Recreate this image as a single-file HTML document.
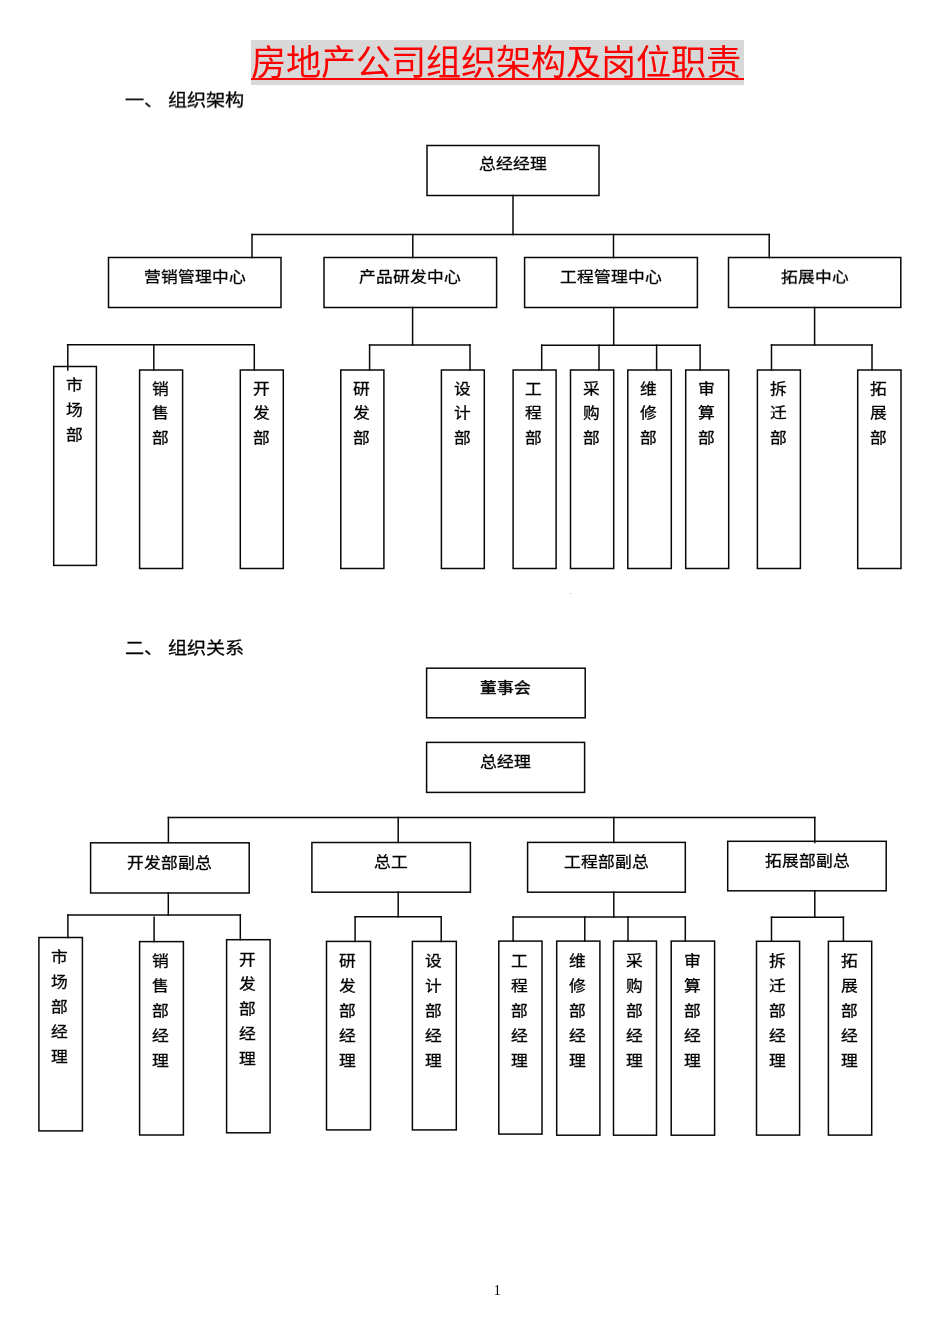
<!DOCTYPE html>
<html lang="zh-CN"><head><meta charset="utf-8"><title>房地产公司组织架构及岗位职责</title>
<style>
html,body{margin:0;padding:0;background:#fff;}
body{width:950px;height:1344px;position:relative;overflow:hidden;font-family:"Liberation Sans",sans-serif;color:#000;}
svg{position:absolute;left:0;top:0;}
svg line,svg rect{stroke:#080808;stroke-width:1.5;fill:none;stroke-linecap:square;}
.hl{position:absolute;font-size:16.76px;line-height:20px;height:20px;text-align:center;white-space:nowrap;transform:scaleY(0.88);transform-origin:50% 50%;-webkit-text-stroke:0.3px #000;}
.b{-webkit-text-stroke:0.45px #000;}
.b2{-webkit-text-stroke:0.38px #000;}
.vc{position:absolute;width:30px;font-size:16.76px;line-height:20px;height:20px;text-align:center;transform:scaleY(0.88);transform-origin:50% 50%;-webkit-text-stroke:0.3px #000;}
.title{position:absolute;left:251px;top:39.8px;width:493px;height:44.8px;background:#d8d8d8;}
.title span{position:absolute;left:0;top:2.7px;width:493px;font-family:"Liberation Serif",serif;font-size:35.2px;line-height:44px;color:#f00;white-space:nowrap;letter-spacing:0;}
.uline{position:absolute;left:251px;top:77.5px;width:493px;height:2px;background:#f00;}
.head{position:absolute;font-size:19.16px;line-height:24px;height:24px;white-space:nowrap;transform:scaleY(0.9);transform-origin:50% 50%;-webkit-text-stroke:0.3px #000;}
.pn{position:absolute;left:489.7px;top:1283px;width:15px;text-align:center;font-family:"Liberation Serif",serif;font-size:14px;line-height:16px;}
</style></head><body>
<div id="wrap" style="position:absolute;left:0;top:0;width:950px;height:1344px;will-change:transform;background:transparent">
<div class="title"><span>房地产公司组织架构及岗位职责</span></div>
<div class="uline"></div>
<div class="head" style="left:125px;top:89.00px">一、 组织架构</div>
<div class="head" style="left:125px;top:636.55px">二、 组织关系</div>
<svg width="950" height="1344" viewBox="0 0 950 1344">
<line x1="513" y1="195.5" x2="513" y2="234.5"/>
<line x1="252" y1="234.5" x2="769.2" y2="234.5"/>
<line x1="252" y1="234.5" x2="252" y2="257.5"/>
<line x1="412.8" y1="234.5" x2="412.8" y2="257.5"/>
<line x1="613.5" y1="234.5" x2="613.5" y2="257.5"/>
<line x1="769.2" y1="234.5" x2="769.2" y2="257.5"/>
<line x1="67.6" y1="344.8" x2="254.3" y2="344.8"/>
<line x1="67.8" y1="344.8" x2="67.8" y2="370.0"/>
<line x1="153.8" y1="344.8" x2="153.8" y2="370.0"/>
<line x1="254.3" y1="344.8" x2="254.3" y2="370.0"/>
<line x1="412.6" y1="307.5" x2="412.6" y2="345.0"/>
<line x1="369.6" y1="345.0" x2="470" y2="345.0"/>
<line x1="369.6" y1="345.0" x2="369.6" y2="370.0"/>
<line x1="470" y1="345.0" x2="470" y2="370.0"/>
<line x1="613.7" y1="307.5" x2="613.7" y2="345.2"/>
<line x1="541.7" y1="345.2" x2="700.1" y2="345.2"/>
<line x1="541.7" y1="345.2" x2="541.7" y2="370.0"/>
<line x1="599" y1="345.2" x2="599" y2="370.0"/>
<line x1="656.6" y1="345.2" x2="656.6" y2="370.0"/>
<line x1="700.1" y1="345.2" x2="700.1" y2="370.0"/>
<line x1="814.6" y1="307.5" x2="814.6" y2="345.0"/>
<line x1="771.5" y1="345.0" x2="872" y2="345.0"/>
<line x1="771.5" y1="345.0" x2="771.5" y2="370.0"/>
<line x1="872" y1="345.0" x2="872" y2="370.0"/>
<line x1="168.4" y1="817.5" x2="814.8" y2="817.5"/>
<line x1="168.4" y1="817.5" x2="168.4" y2="842.5"/>
<line x1="398.2" y1="817.5" x2="398.2" y2="842.5"/>
<line x1="613.8" y1="817.5" x2="613.8" y2="842.5"/>
<line x1="814.8" y1="817.5" x2="814.8" y2="842.5"/>
<line x1="168.3" y1="893.0" x2="168.3" y2="915.0"/>
<line x1="67.9" y1="915.0" x2="240.3" y2="915.0"/>
<line x1="67.9" y1="915.0" x2="67.9" y2="937.5"/>
<line x1="154.1" y1="917.3" x2="154.1" y2="941.6"/>
<line x1="240.3" y1="915.0" x2="240.3" y2="939.7"/>
<line x1="398.2" y1="892.2" x2="398.2" y2="916.8"/>
<line x1="355.1" y1="916.8" x2="441.2" y2="916.8"/>
<line x1="355.1" y1="916.8" x2="355.1" y2="941.4"/>
<line x1="441.2" y1="916.8" x2="441.2" y2="941.4"/>
<line x1="613.8" y1="892.2" x2="613.8" y2="917.1"/>
<line x1="513.1" y1="917.1" x2="685.3" y2="917.1"/>
<line x1="513.1" y1="917.1" x2="513.1" y2="941.1"/>
<line x1="584.8" y1="917.1" x2="584.8" y2="941.1"/>
<line x1="628" y1="917.1" x2="628" y2="941.1"/>
<line x1="685.3" y1="917.1" x2="685.3" y2="941.1"/>
<line x1="814.8" y1="890.8" x2="814.8" y2="917.2"/>
<line x1="771.5" y1="917.2" x2="843.4" y2="917.2"/>
<line x1="771.5" y1="917.2" x2="771.5" y2="941.3"/>
<line x1="843.4" y1="917.2" x2="843.4" y2="941.3"/>
<rect x="427" y="145.5" width="172.00" height="50.00"/>
<rect x="108.5" y="257.5" width="172.50" height="50.00"/>
<rect x="324" y="257.5" width="172.60" height="50.00"/>
<rect x="524.6" y="257.5" width="172.80" height="50.00"/>
<rect x="728.5" y="257.5" width="172.30" height="50.00"/>
<rect x="53.7" y="366.5" width="42.70" height="198.90"/>
<rect x="139.6" y="370.0" width="43.00" height="198.50"/>
<rect x="240.3" y="370.0" width="43.00" height="198.50"/>
<rect x="340.8" y="370.0" width="43.10" height="198.50"/>
<rect x="441.4" y="370.0" width="42.90" height="198.50"/>
<rect x="513.1" y="370.0" width="43.00" height="198.50"/>
<rect x="570.5" y="370.0" width="43.20" height="198.50"/>
<rect x="627.8" y="370.0" width="43.50" height="198.50"/>
<rect x="685.7" y="370.0" width="43.00" height="198.50"/>
<rect x="757.4" y="370.0" width="43.00" height="198.50"/>
<rect x="857.7" y="370.0" width="43.30" height="198.50"/>
<rect x="426.6" y="668.2" width="158.60" height="49.60"/>
<rect x="426.6" y="742.4" width="158.00" height="50.00"/>
<rect x="90.6" y="842.8" width="158.60" height="50.20"/>
<rect x="311.9" y="842.5" width="158.50" height="49.70"/>
<rect x="527.6" y="842.4" width="157.70" height="49.80"/>
<rect x="727.7" y="841.3" width="158.50" height="49.50"/>
<rect x="38.9" y="937.5" width="43.50" height="193.40"/>
<rect x="139.6" y="941.6" width="43.80" height="193.40"/>
<rect x="226.6" y="939.7" width="43.50" height="193.10"/>
<rect x="326.5" y="941.4" width="44.00" height="188.50"/>
<rect x="412.4" y="941.4" width="43.90" height="188.50"/>
<rect x="498.8" y="941.1" width="43.20" height="193.00"/>
<rect x="556.7" y="941.1" width="43.20" height="194.10"/>
<rect x="613.5" y="941.1" width="43.00" height="194.10"/>
<rect x="671.2" y="941.1" width="43.40" height="194.10"/>
<rect x="756.5" y="941.3" width="43.10" height="193.80"/>
<rect x="828.4" y="941.3" width="43.30" height="193.80"/>
</svg>
<div class="hl" style="left:363.0px;top:155.20px;width:300px">总经经理</div>
<div class="hl" style="left:44.8px;top:267.80px;width:300px">营销管理中心</div>
<div class="hl" style="left:260.3px;top:267.80px;width:300px">产品研发中心</div>
<div class="hl" style="left:461.0px;top:267.80px;width:300px">工程管理中心</div>
<div class="hl" style="left:664.6px;top:267.80px;width:300px">拓展中心</div>
<div class="vc" style="left:59.25px;top:376.00px">市</div>
<div class="vc" style="left:59.25px;top:400.90px">场</div>
<div class="vc" style="left:59.25px;top:425.80px">部</div>
<div class="vc" style="left:145.30px;top:379.50px">销</div>
<div class="vc" style="left:145.30px;top:404.40px">售</div>
<div class="vc" style="left:145.30px;top:429.30px">部</div>
<div class="vc" style="left:246.00px;top:379.50px">开</div>
<div class="vc" style="left:246.00px;top:404.40px">发</div>
<div class="vc" style="left:246.00px;top:429.30px">部</div>
<div class="vc" style="left:346.55px;top:379.50px">研</div>
<div class="vc" style="left:346.55px;top:404.40px">发</div>
<div class="vc" style="left:346.55px;top:429.30px">部</div>
<div class="vc" style="left:447.05px;top:379.50px">设</div>
<div class="vc" style="left:447.05px;top:404.40px">计</div>
<div class="vc" style="left:447.05px;top:429.30px">部</div>
<div class="vc" style="left:518.80px;top:379.50px">工</div>
<div class="vc" style="left:518.80px;top:404.40px">程</div>
<div class="vc" style="left:518.80px;top:429.30px">部</div>
<div class="vc" style="left:576.30px;top:379.50px">采</div>
<div class="vc" style="left:576.30px;top:404.40px">购</div>
<div class="vc" style="left:576.30px;top:429.30px">部</div>
<div class="vc" style="left:633.75px;top:379.50px">维</div>
<div class="vc" style="left:633.75px;top:404.40px">修</div>
<div class="vc" style="left:633.75px;top:429.30px">部</div>
<div class="vc" style="left:691.40px;top:379.50px">审</div>
<div class="vc" style="left:691.40px;top:404.40px">算</div>
<div class="vc" style="left:691.40px;top:429.30px">部</div>
<div class="vc" style="left:763.10px;top:379.50px">拆</div>
<div class="vc" style="left:763.10px;top:404.40px">迁</div>
<div class="vc" style="left:763.10px;top:429.30px">部</div>
<div class="vc" style="left:863.55px;top:379.50px">拓</div>
<div class="vc" style="left:863.55px;top:404.40px">展</div>
<div class="vc" style="left:863.55px;top:429.30px">部</div>
<div class="hl b" style="left:355.9px;top:678.80px;width:300px">董事会</div>
<div class="hl b2" style="left:355.6px;top:752.90px;width:300px">总经理</div>
<div class="hl" style="left:19.9px;top:854.25px;width:300px">开发部副总</div>
<div class="hl" style="left:241.1px;top:853.25px;width:300px">总工</div>
<div class="hl" style="left:456.5px;top:853.05px;width:300px">工程部副总</div>
<div class="hl" style="left:657.0px;top:851.50px;width:300px">拓展部副总</div>
<div class="vc" style="left:44.85px;top:948.30px">市</div>
<div class="vc" style="left:44.85px;top:973.20px">场</div>
<div class="vc" style="left:44.85px;top:998.10px">部</div>
<div class="vc" style="left:44.85px;top:1023.00px">经</div>
<div class="vc" style="left:44.85px;top:1047.90px">理</div>
<div class="vc" style="left:145.70px;top:952.40px">销</div>
<div class="vc" style="left:145.70px;top:977.30px">售</div>
<div class="vc" style="left:145.70px;top:1002.20px">部</div>
<div class="vc" style="left:145.70px;top:1027.10px">经</div>
<div class="vc" style="left:145.70px;top:1052.00px">理</div>
<div class="vc" style="left:232.55px;top:950.50px">开</div>
<div class="vc" style="left:232.55px;top:975.40px">发</div>
<div class="vc" style="left:232.55px;top:1000.30px">部</div>
<div class="vc" style="left:232.55px;top:1025.20px">经</div>
<div class="vc" style="left:232.55px;top:1050.10px">理</div>
<div class="vc" style="left:332.70px;top:952.20px">研</div>
<div class="vc" style="left:332.70px;top:977.10px">发</div>
<div class="vc" style="left:332.70px;top:1002.00px">部</div>
<div class="vc" style="left:332.70px;top:1026.90px">经</div>
<div class="vc" style="left:332.70px;top:1051.80px">理</div>
<div class="vc" style="left:418.55px;top:952.20px">设</div>
<div class="vc" style="left:418.55px;top:977.10px">计</div>
<div class="vc" style="left:418.55px;top:1002.00px">部</div>
<div class="vc" style="left:418.55px;top:1026.90px">经</div>
<div class="vc" style="left:418.55px;top:1051.80px">理</div>
<div class="vc" style="left:504.60px;top:951.90px">工</div>
<div class="vc" style="left:504.60px;top:976.80px">程</div>
<div class="vc" style="left:504.60px;top:1001.70px">部</div>
<div class="vc" style="left:504.60px;top:1026.60px">经</div>
<div class="vc" style="left:504.60px;top:1051.50px">理</div>
<div class="vc" style="left:562.50px;top:951.90px">维</div>
<div class="vc" style="left:562.50px;top:976.80px">修</div>
<div class="vc" style="left:562.50px;top:1001.70px">部</div>
<div class="vc" style="left:562.50px;top:1026.60px">经</div>
<div class="vc" style="left:562.50px;top:1051.50px">理</div>
<div class="vc" style="left:619.20px;top:951.90px">采</div>
<div class="vc" style="left:619.20px;top:976.80px">购</div>
<div class="vc" style="left:619.20px;top:1001.70px">部</div>
<div class="vc" style="left:619.20px;top:1026.60px">经</div>
<div class="vc" style="left:619.20px;top:1051.50px">理</div>
<div class="vc" style="left:677.10px;top:951.90px">审</div>
<div class="vc" style="left:677.10px;top:976.80px">算</div>
<div class="vc" style="left:677.10px;top:1001.70px">部</div>
<div class="vc" style="left:677.10px;top:1026.60px">经</div>
<div class="vc" style="left:677.10px;top:1051.50px">理</div>
<div class="vc" style="left:762.25px;top:952.10px">拆</div>
<div class="vc" style="left:762.25px;top:977.00px">迁</div>
<div class="vc" style="left:762.25px;top:1001.90px">部</div>
<div class="vc" style="left:762.25px;top:1026.80px">经</div>
<div class="vc" style="left:762.25px;top:1051.70px">理</div>
<div class="vc" style="left:834.25px;top:952.10px">拓</div>
<div class="vc" style="left:834.25px;top:977.00px">展</div>
<div class="vc" style="left:834.25px;top:1001.90px">部</div>
<div class="vc" style="left:834.25px;top:1026.80px">经</div>
<div class="vc" style="left:834.25px;top:1051.70px">理</div>
<div class="pn">1</div>
<div style="position:absolute;left:570px;top:593px;width:1.2px;height:1.2px;background:#bbb"></div>
</div>
</body></html>
